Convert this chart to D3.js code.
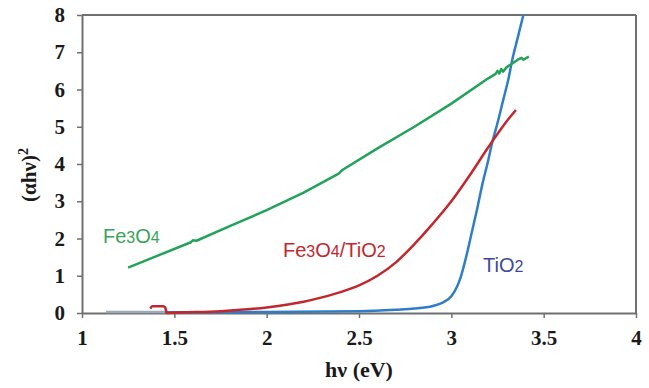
<!DOCTYPE html>
<html>
<head>
<meta charset="utf-8">
<script src="https://cdn.jsdelivr.net/npm/d3@7"></script>
<style>
  html, body { margin: 0; padding: 0; background: #fff; }
  svg { display: block; }
</style>
</head>
<body>
<div id="chart"></div>
<script>
// Tauc plot: (alpha h nu)^2 vs photon energy
const X_TICKS = [1, 1.5, 2, 2.5, 3, 3.5, 4];
const Y_TICKS = [0, 1, 2, 3, 4, 5, 6, 7, 8];

const FE3O4_X = [1.25, 1.4, 1.59, 1.6, 1.62, 1.8, 2.0, 2.2, 2.39, 2.41, 2.6, 2.8, 3.0, 3.2, 3.24, 3.25, 3.26, 3.27, 3.28, 3.3, 3.33, 3.36, 3.38, 3.39, 3.42];
const FE3O4_Y = [1.22, 1.52, 1.9, 1.95, 1.94, 2.33, 2.76, 3.23, 3.74, 3.84, 4.42, 5.0, 5.62, 6.3, 6.42, 6.5, 6.43, 6.55, 6.48, 6.6, 6.7, 6.8, 6.85, 6.8, 6.88];

const COMPOSITE_X = [1.37, 1.38, 1.44, 1.45, 1.46, 1.5, 1.75, 2.0, 2.2, 2.3, 2.4, 2.5, 2.6, 2.7, 2.8, 2.9, 3.0, 3.1, 3.2, 3.3, 3.35];
const COMPOSITE_Y = [0.12, 0.18, 0.18, 0.15, 0.0, 0.01, 0.05, 0.15, 0.3, 0.42, 0.56, 0.74, 1.0, 1.36, 1.85, 2.4, 3.0, 3.7, 4.45, 5.15, 5.45];

const TIO2_X = [1.45, 2.0, 2.5, 2.7, 2.8, 2.9, 2.95, 3.0, 3.03, 3.05, 3.08, 3.11, 3.14, 3.17, 3.2, 3.22, 3.25, 3.28, 3.31, 3.33, 3.36, 3.39];
const TIO2_Y = [0.02, 0.03, 0.05, 0.09, 0.12, 0.19, 0.27, 0.45, 0.7, 0.95, 1.5, 2.15, 2.8, 3.5, 4.1, 4.55, 5.1, 5.7, 6.3, 6.8, 7.4, 8.0];

const BASE_X = [1.13, 1.45];
const BASE_Y = [0.03, 0.03];

const SERIES = [
  { name: 'base', xs: BASE_X, ys: BASE_Y, color: '#9aaab8', smooth: false },
  { name: 'TiO2', xs: TIO2_X, ys: TIO2_Y, color: '#2f7dc6', smooth: true },
  { name: 'Fe3O4/TiO2', xs: COMPOSITE_X, ys: COMPOSITE_Y, color: '#c1272d', smooth: true },
  { name: 'Fe3O4', xs: FE3O4_X, ys: FE3O4_Y, color: '#23a35a', smooth: false }
];

const WIDTH = 649, HEIGHT = 388;
const MARGIN = { top: 15, right: 13, bottom: 75, left: 82 };
const innerW = WIDTH - MARGIN.left - MARGIN.right;
const innerH = HEIGHT - MARGIN.top - MARGIN.bottom;
const FRAME = '#707070';
const SERIF = '"Liberation Serif", "Times New Roman", serif';
const SANS = '"Liberation Sans", Arial, sans-serif';

const svg = d3.select('#chart').append('svg')
  .attr('width', WIDTH)
  .attr('height', HEIGHT);

const g = svg.append('g')
  .attr('transform', `translate(${MARGIN.left},${MARGIN.top})`);

const x = d3.scaleLinear().domain([1, 4]).range([0, innerW]);
const y = d3.scaleLinear().domain([0, 8]).range([innerH, 0]);

// frame top + right
g.append('line')
  .attr('x1', 0).attr('x2', innerW).attr('y1', 0).attr('y2', 0)
  .attr('stroke', FRAME).attr('stroke-width', 2);
g.append('line')
  .attr('x1', innerW).attr('x2', innerW).attr('y1', 0).attr('y2', innerH)
  .attr('stroke', FRAME).attr('stroke-width', 2);

const xAxis = g.append('g')
  .attr('transform', `translate(0,${innerH})`)
  .call(d3.axisBottom(x).tickValues(X_TICKS).tickSize(5).tickSizeOuter(0).tickPadding(12)
    .tickFormat(d3.format('')));

const yAxis = g.append('g')
  .call(d3.axisLeft(y).tickValues(Y_TICKS).tickSize(5).tickSizeOuter(0).tickPadding(12)
    .tickFormat(d3.format('d')));

[xAxis, yAxis].forEach(ax => {
  ax.select('.domain').attr('stroke', FRAME).attr('stroke-width', 2);
  ax.selectAll('.tick line').attr('stroke', FRAME).attr('stroke-width', 1.5);
  ax.selectAll('.tick text')
    .attr('fill', '#1a1a1a')
    .style('font-family', SERIF)
    .style('font-weight', 'bold')
    .style('font-size', '21px');
});

SERIES.forEach(s => {
  const pts = s.xs.map((v, i) => [v, s.ys[i]]);
  const line = d3.line()
    .x(d => x(d[0]))
    .y(d => y(d[1]))
    .curve(s.smooth ? d3.curveMonotoneX : d3.curveLinear);
  g.append('path')
    .datum(pts)
    .attr('fill', 'none')
    .attr('stroke', s.color)
    .attr('stroke-width', 2.5)
    .attr('stroke-linejoin', 'round')
    .attr('d', line);
});

// in-plot labels, digits drawn smaller on the same baseline
function chemLabel(parts, px, py, color) {
  const t = svg.append('text')
    .attr('x', px).attr('y', py)
    .attr('fill', color)
    .style('font-family', SANS)
    .style('font-size', '20px');
  parts.forEach(p => {
    t.append('tspan')
      .style('font-size', /\d/.test(p) ? '16px' : '20px')
      .text(p);
  });
}
chemLabel(['Fe', '3', 'O', '4'], 103, 243, '#3aa35a');
chemLabel(['Fe', '3', 'O', '4', '/TiO', '2'], 283, 257, '#c4262e');
chemLabel(['TiO', '2'], 483, 272, '#40489c');

// axis titles
svg.append('text')
  .attr('x', MARGIN.left + x(2.5))
  .attr('y', 377)
  .attr('text-anchor', 'middle')
  .attr('fill', '#1a1a1a')
  .style('font-family', SERIF)
  .style('font-weight', 'bold')
  .style('font-size', '22px')
  .text('hν (eV)');

const yTitle = svg.append('text')
  .attr('transform', 'translate(36,175) rotate(-90)')
  .attr('text-anchor', 'middle')
  .attr('fill', '#1a1a1a')
  .style('font-family', SERIF)
  .style('font-weight', 'bold')
  .style('font-size', '21px');
yTitle.append('tspan').text('(αhν)');
yTitle.append('tspan').attr('dy', -8).style('font-size', '14px').text('2');
</script>
</body>
</html>
